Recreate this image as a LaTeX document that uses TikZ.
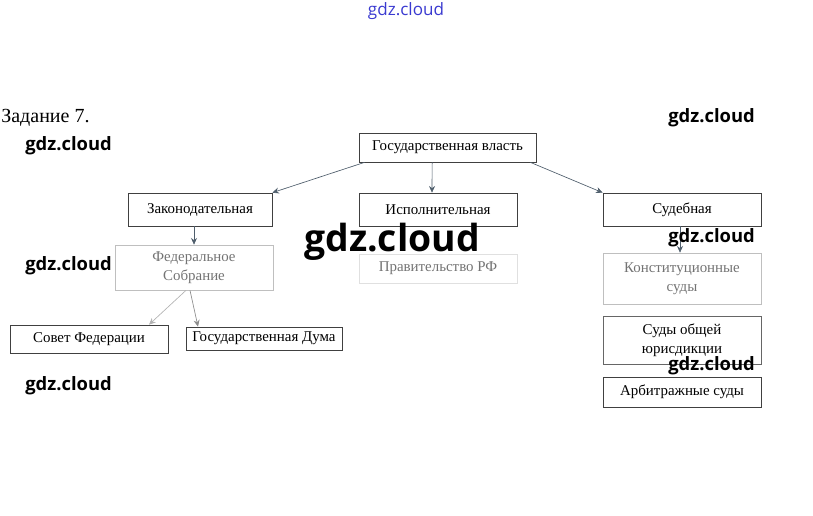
\documentclass[tikz,border=0pt]{standalone}
\usepackage{fontspec}
\setmainfont{Liberation Serif}
\newfontfamily\wmfont{Open Sans}
\usetikzlibrary{positioning,arrows.meta}
\definecolor{arrowgray}{HTML}{4F5E6C}
\definecolor{wmblue}{HTML}{3A3AD0}
\tikzset{
  box/.style={draw=black!75,line width=0.5pt,align=center,inner sep=0pt,
    font=\fontsize{11.2}{14.5}\selectfont},
  pale/.style={box,draw=black!25,text=black!55},
  wm/.style={inner sep=0pt,font=\wmfont\bfseries\fontsize{13.8}{15}\selectfont}
}
\begin{document}
\begin{tikzpicture}[x=0.75pt,y=-0.75pt,->,>={Stealth[length=5pt,width=4.5pt]},line width=0.5pt]
\useasboundingbox (0,0) rectangle (813,516);
\node[anchor=west,inner sep=0pt,font=\fontsize{15}{16}\selectfont] (task) at (1,118) {Задание 7.};
\node[box,minimum width=132.75pt,minimum height=21.75pt] (gv) at (447.5,147.5) {Государственная власть};
\node[box,minimum width=108pt,minimum height=24.75pt] (zak) at (200,209.5) {Законодательная};
\node[box,minimum width=118.5pt,minimum height=24.75pt] (isp) at (438,209.5) {Исполнительная};
\node[box,minimum width=118.5pt,minimum height=24.75pt] (sud) at (682,209.5) {Судебная};
\node[pale,minimum width=118.5pt,minimum height=33.75pt] (fs) at (194,267.5) {Федеральное\\Собрание};
\node[pale,draw=black!12,minimum width=118.5pt,minimum height=21.75pt] (prav) at (438,268.5) {Правительство РФ};
\node[box,minimum width=118.5pt,minimum height=21pt] (sf) at (89,339) {Совет Федерации};
\node[box,minimum width=117pt,minimum height=17.25pt] (gd) at (264,338.5) {Государственная Дума};
\node[pale,minimum width=118.5pt,minimum height=38.25pt] (ks) at (682,278.5) {Конституционные\\суды};
\node[box,draw=black!60,minimum width=118.5pt,minimum height=36pt] (soj) at (682,340) {Суды общей\\юрисдикции};
\node[box,minimum width=118.5pt,minimum height=22.5pt] (arb) at (682,392) {Арбитражные суды};
\draw[arrowgray] ([xshift=4.5pt]gv.south west) -- (zak.north east);
\draw[arrowgray] ([xshift=-11.5pt]gv.south) -- ([xshift=-4.5pt]isp.north);
\draw[arrowgray] ([xshift=-4.5pt]gv.south east) -- (sud.north west);
\draw[arrowgray] (fs.north |- zak.south) -- (fs.north);
\draw[black!30] ([xshift=-6pt]fs.south) -- ([xshift=45pt]sf.north);
\draw[black!45] ([xshift=-3pt]fs.south) -- ([xshift=-49.5pt]gd.north);
\draw[arrowgray] ([xshift=-1.5pt]sud.south) -- ([xshift=-1.5pt]ks.north);
\node[inner sep=0pt,text=wmblue,font=\wmfont\fontsize{12.8}{14}\selectfont] (wm0) at (406,11) {gdz.cloud};
\node[wm,anchor=west] (wm1) at (25,146) {gdz.cloud};
\node[wm,anchor=west] (wm2) at (668,118) {gdz.cloud};
\node[wm,anchor=west] (wm3) at (25,266) {gdz.cloud};
\node[wm,anchor=west,font=\wmfont\bfseries\fontsize{28}{30}\selectfont] (wm4) at (304,242) {gdz.cloud};
\node[wm,anchor=west] (wm5) at (668,238) {gdz.cloud};
\node[wm,anchor=west] (wm6) at (25,386) {gdz.cloud};
\node[wm,anchor=west] (wm7) at (668,366) {gdz.cloud};
\end{tikzpicture}
\end{document}
